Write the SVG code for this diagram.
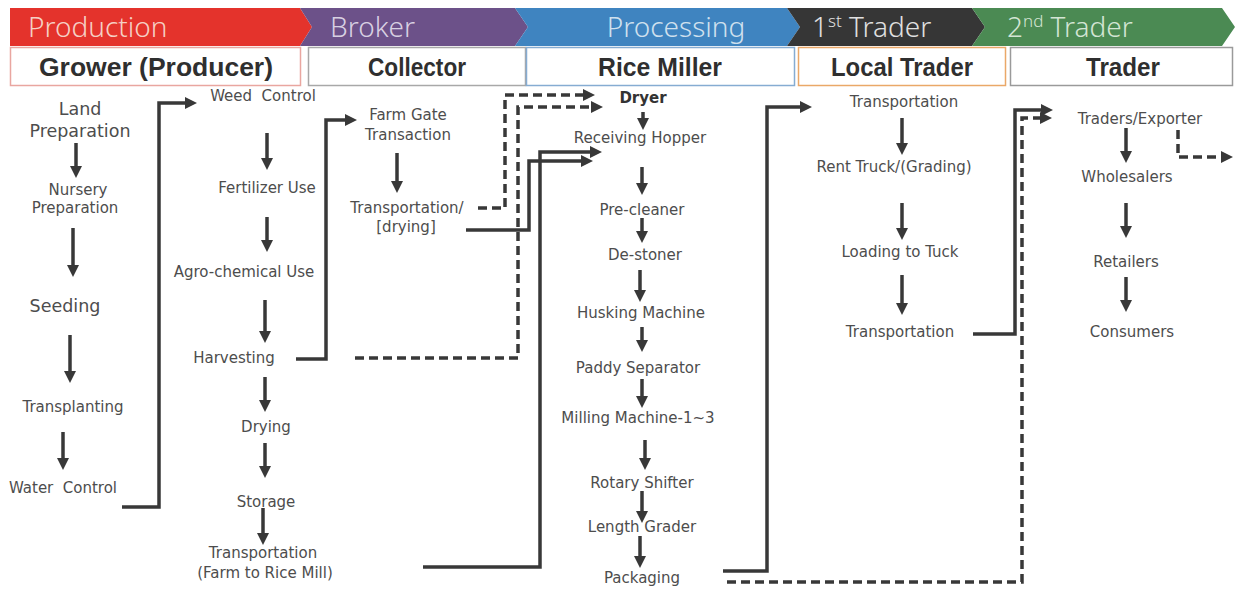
<svg xmlns="http://www.w3.org/2000/svg" width="1239" height="590" viewBox="0 0 1239 590">
  <style>
    .band-label { font-family: "Noto Sans", "Liberation Sans", sans-serif; font-size: 28px; font-weight: 300; }
    .stage-label { font-family: "Liberation Sans", Arial, sans-serif; font-size: 25px; font-weight: bold; fill: #2f2f2f; text-anchor: middle; }
    .step { font-family: "DejaVu Sans", Verdana, sans-serif; font-size: 15px; fill: #4d4d4d; text-anchor: middle; white-space: pre; }
    .step-lg { font-size: 17.5px; }
    .step-bold { font-weight: bold; fill: #333; }
    .flow { fill: none; stroke: #383838; stroke-width: 3.5; }
    .dash { stroke-dasharray: 9 5; }
  </style>
  <defs>
    <marker id="head" viewBox="0 0 12 12" refX="3" refY="6" markerWidth="12" markerHeight="12" markerUnits="userSpaceOnUse" orient="auto">
      <path d="M0,0 L12,6 L0,12 z" fill="#383838"/>
    </marker>
  </defs>

  <rect width="1239" height="590" fill="#ffffff"/>

  <!-- stage chevrons -->
  <g id="band-production">
    <polygon points="10,8 300,8 312,27 300,46 10,46" fill="#e4332c"/>
    <text class="band-label" x="28" y="37" fill="#f5cfc4">Production</text>
  </g>
  <g id="band-broker">
    <polygon points="300,8 515,8 528,27 515,46 300,46 312,27" fill="#6c5189"/>
    <text class="band-label" x="330" y="37" fill="#d8d0e2">Broker</text>
  </g>
  <g id="band-processing">
    <polygon points="515,8 787,8 800,27 787,46 515,46 528,27" fill="#3f84c0"/>
    <text class="band-label" x="676" y="37" fill="#cfe0ee" text-anchor="middle">Processing</text>
  </g>
  <g id="band-trader1">
    <polygon points="787,8 972,8 985,27 972,46 787,46 800,27" fill="#363636"/>
    <text class="band-label" x="812" y="37" fill="#e0e0e0">1<tspan font-size="17" dy="-10">st</tspan><tspan dy="10"> Trader</tspan></text>
  </g>
  <g id="band-trader2">
    <polygon points="972,8 1222,8 1235,27 1222,46 972,46 985,27" fill="#4b8a53"/>
    <text class="band-label" x="1007" y="37" fill="#d3e5d4">2<tspan font-size="17" dy="-10">nd</tspan><tspan dy="10"> Trader</tspan></text>
  </g>

  <!-- actor boxes -->
  <g id="actor-grower">
    <rect x="10.5" y="47.5" width="290" height="38" fill="#fff" stroke="#e9a6a0" stroke-width="1.5"/>
    <text class="stage-label" x="156" y="76" textLength="234" lengthAdjust="spacingAndGlyphs">Grower (Producer)</text>
  </g>
  <g id="actor-collector">
    <rect x="308.5" y="47.5" width="217" height="38" fill="#fff" stroke="#a8a8a8" stroke-width="1.5"/>
    <text class="stage-label" x="417" y="76" textLength="98" lengthAdjust="spacingAndGlyphs">Collector</text>
  </g>
  <g id="actor-miller">
    <rect x="526.5" y="47.5" width="268" height="38" fill="#fff" stroke="#86acd2" stroke-width="1.5"/>
    <text class="stage-label" x="660" y="76" textLength="124" lengthAdjust="spacingAndGlyphs">Rice Miller</text>
  </g>
  <g id="actor-local-trader">
    <rect x="798.5" y="47.5" width="207" height="38" fill="#fff" stroke="#eaa868" stroke-width="1.5"/>
    <text class="stage-label" x="902" y="76" textLength="142" lengthAdjust="spacingAndGlyphs">Local Trader</text>
  </g>
  <g id="actor-trader">
    <rect x="1010.5" y="47.5" width="222" height="38" fill="#fff" stroke="#9a9a9a" stroke-width="1.5"/>
    <text class="stage-label" x="1123" y="76" textLength="74" lengthAdjust="spacingAndGlyphs">Trader</text>
  </g>

  <!-- grower steps -->
  <g id="land-preparation"><text class="step step-lg" x="80" y="115">Land</text><text class="step step-lg" x="80" y="137">Preparation</text></g>
  <g id="nursery-preparation"><text class="step" x="78" y="195">Nursery</text><text class="step" x="75" y="213">Preparation</text></g>
  <g id="seeding"><text class="step step-lg" x="65" y="312">Seeding</text></g>
  <g id="transplanting"><text class="step" x="73" y="412">Transplanting</text></g>
  <g id="water-control"><text class="step" x="63" y="493">Water  Control</text></g>
  <g id="weed-control"><text class="step" x="263" y="101">Weed  Control</text></g>
  <g id="fertilizer-use"><text class="step" x="267" y="193">Fertilizer Use</text></g>
  <g id="agrochemical-use"><text class="step" x="244" y="277">Agro-chemical Use</text></g>
  <g id="harvesting"><text class="step" x="234" y="363">Harvesting</text></g>
  <g id="drying"><text class="step" x="266" y="432">Drying</text></g>
  <g id="storage"><text class="step" x="266" y="507">Storage</text></g>
  <g id="farm-transport"><text class="step" x="263" y="558">Transportation</text><text class="step" x="265" y="578">(Farm to Rice Mill)</text></g>

  <!-- collector steps -->
  <g id="farm-gate"><text class="step" x="408" y="120">Farm Gate</text><text class="step" x="408" y="140">Transaction</text></g>
  <g id="collector-transport"><text class="step" x="407" y="213">Transportation/</text><text class="step" x="406" y="232">[drying]</text></g>

  <!-- rice mill steps -->
  <g id="dryer"><text class="step step-bold" x="643" y="103">Dryer</text></g>
  <g id="receiving-hopper"><text class="step" x="640" y="143">Receiving Hopper</text></g>
  <g id="pre-cleaner"><text class="step" x="642" y="215">Pre-cleaner</text></g>
  <g id="de-stoner"><text class="step" x="645" y="260">De-stoner</text></g>
  <g id="husking-machine"><text class="step" x="641" y="318">Husking Machine</text></g>
  <g id="paddy-separator"><text class="step" x="638" y="373">Paddy Separator</text></g>
  <g id="milling-machine"><text class="step" x="638" y="423">Milling Machine-1~3</text></g>
  <g id="rotary-shifter"><text class="step" x="642" y="488">Rotary Shifter</text></g>
  <g id="length-grader"><text class="step" x="642" y="532">Length Grader</text></g>
  <g id="packaging"><text class="step" x="642" y="583">Packaging</text></g>

  <!-- local trader steps -->
  <g id="lt-transport"><text class="step" x="904" y="107">Transportation</text></g>
  <g id="rent-truck"><text class="step" x="894" y="172">Rent Truck/(Grading)</text></g>
  <g id="loading"><text class="step" x="900" y="257">Loading to Tuck</text></g>
  <g id="lt-transport-2"><text class="step" x="900" y="337">Transportation</text></g>

  <!-- trader steps -->
  <g id="exporter"><text class="step" x="1140" y="124">Traders/Exporter</text></g>
  <g id="wholesalers"><text class="step" x="1127" y="182">Wholesalers</text></g>
  <g id="retailers"><text class="step" x="1126" y="267">Retailers</text></g>
  <g id="consumers"><text class="step" x="1132" y="337">Consumers</text></g>

  <!-- connectors -->
  <g id="connectors" marker-end="url(#head)">
    <!-- step-to-step arrows (tip 9px below line end) -->
    <path class="flow" d="M76,143 V169"/>
    <path class="flow" d="M73,228 V268"/>
    <path class="flow" d="M70,335 V374"/>
    <path class="flow" d="M63,432 V461"/>

    <path class="flow" d="M267,133 V161"/>
    <path class="flow" d="M267,217 V243"/>
    <path class="flow" d="M265,300 V334"/>
    <path class="flow" d="M265,377 V403"/>
    <path class="flow" d="M265,443 V469"/>
    <path class="flow" d="M263,508 V536"/>

    <path class="flow" d="M397,153 V184"/>

    <path class="flow" d="M643,112 V121"/>
    <path class="flow" d="M642,167 V186"/>
    <path class="flow" d="M642,218 V234"/>
    <path class="flow" d="M640,270 V293"/>
    <path class="flow" d="M642,327 V343"/>
    <path class="flow" d="M642,379 V399"/>
    <path class="flow" d="M645,440 V461"/>
    <path class="flow" d="M642,491 V514"/>
    <path class="flow" d="M640,536 V559"/>

    <path class="flow" d="M902,118 V146"/>
    <path class="flow" d="M902,203 V231"/>
    <path class="flow" d="M902,275 V306"/>

    <path class="flow" d="M1126,128 V154"/>
    <path class="flow" d="M1126,203 V229"/>
    <path class="flow" d="M1126,277 V303"/>

    <!-- solid hand-offs between actors -->
    <path class="flow" d="M122,507 H159 V103 H188"/>
    <path class="flow" d="M296,359 H326 V120 H348"/>
    <path class="flow" d="M466,230 H529 V161 H584"/>
    <path class="flow" d="M423,567 H540 V152 H593"/>
    <path class="flow" d="M723,571 H767 V107 H803"/>
    <path class="flow" d="M973,334 H1015 V110 H1044"/>

    <!-- dashed alternative routes -->
    <path class="flow dash" d="M478,208 H505 V95 H586"/>
    <path class="flow dash" d="M355,358 H518 V107 H594"/>
    <path class="flow dash" d="M727,582 H1022 V118 H1043"/>
    <path class="flow dash" d="M1178,130 V157 H1224"/>
  </g>
</svg>
